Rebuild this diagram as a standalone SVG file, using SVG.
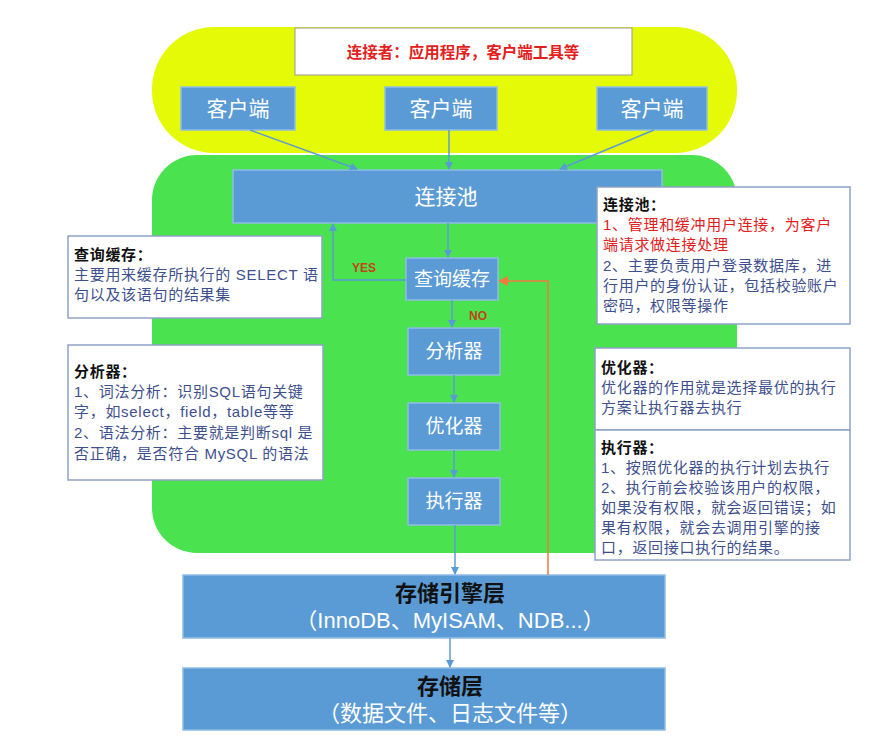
<svg xmlns="http://www.w3.org/2000/svg" width="873" height="745" viewBox="0 0 873 745">
<defs>
<marker id="ab" markerWidth="8" markerHeight="8" refX="7" refY="4" orient="auto" markerUnits="userSpaceOnUse"><path d="M0,0 L8,4 L0,8 z" fill="#5b9bd5"/></marker>
<marker id="ao" markerWidth="10" markerHeight="10" refX="9" refY="5" orient="auto" markerUnits="userSpaceOnUse"><path d="M0,0 L10,5 L0,10 z" fill="#f07b3f"/></marker>
</defs>
<style>
.node{fill:#5b9bd5;stroke:#8fbde6;stroke-width:1.5}
.nt{font-family:"Liberation Sans","Noto Sans CJK SC",sans-serif;fill:#fff;font-size:21px;text-anchor:middle;dominant-baseline:central}
.note{fill:#fff;stroke:#8ea3c4;stroke-width:1.5}
.tx{font-family:"Liberation Sans","Noto Sans CJK SC",sans-serif;font-size:15px;letter-spacing:0.7px;fill:#3e4f8e}
.hd{font-weight:bold;fill:#111}
.red{fill:#e3201b}
.cn{stroke:#5b9bd5;stroke-width:1.5;fill:none}
.big{font-family:"Liberation Sans","Noto Sans CJK SC",sans-serif;font-size:22px;text-anchor:middle;dominant-baseline:central}
</style>
<rect width="873" height="745" fill="#fff"/>
<rect id="yellow-zone" x="152" y="27" width="585" height="126" rx="62" fill="#e4fa07"/>
<rect id="green-zone" x="152" y="155" width="585" height="398" rx="45" fill="#4ae34f"/>

<g id="header">
<rect x="295" y="28" width="337" height="47" fill="#fff" stroke="#999" stroke-width="1"/>
<text x="463" y="52" font-family="Liberation Sans,Noto Sans CJK SC,sans-serif" font-size="15.5px" font-weight="bold" fill="#e3201b" text-anchor="middle" dominant-baseline="central">连接者：应用程序，客户端工具等</text>
</g>
<g id="client1"><rect class="node" x="181" y="87" width="114" height="43"/><text class="nt" x="238" y="108">客户端</text></g>
<g id="client2"><rect class="node" x="385" y="87" width="112" height="43"/><text class="nt" x="441" y="108">客户端</text></g>
<g id="client3"><rect class="node" x="597" y="87" width="110" height="43"/><text class="nt" x="652" y="108">客户端</text></g>

<g id="pool"><rect class="node" x="233" y="170" width="429" height="53"/><text class="nt" x="446" y="196">连接池</text></g>
<g id="cache"><rect class="node" x="406" y="258" width="92" height="42"/><text class="nt" x="452" y="279" style="font-size:19px">查询缓存</text></g>
<g id="parser"><rect class="node" x="408" y="328" width="92" height="47"/><text class="nt" x="454" y="351" style="font-size:19px">分析器</text></g>
<g id="optimizer"><rect class="node" x="408" y="403" width="92" height="47"/><text class="nt" x="454" y="426" style="font-size:19px">优化器</text></g>
<g id="executor"><rect class="node" x="408" y="478" width="92" height="47"/><text class="nt" x="454" y="501" style="font-size:19px">执行器</text></g>

<g id="engine"><rect class="node" x="183" y="575" width="482" height="63"/>
<text class="big" x="450" y="593" font-weight="bold" fill="#111">存储引擎层</text>
<text class="big" x="450" y="620" fill="#fff">（InnoDB、MyISAM、NDB...）</text></g>
<g id="storage"><rect class="node" x="183" y="668" width="482" height="62"/>
<text class="big" x="450" y="686" font-weight="bold" fill="#111">存储层</text>
<text class="big" x="450" y="713" fill="#fff">（数据文件、日志文件等）</text></g>

<g id="note-cache"><rect class="note" x="68" y="236" width="254" height="82"/>
<text class="tx" x="74" y="260"><tspan class="hd">查询缓存：</tspan><tspan x="74" dy="20">主要用来缓存所执行的 SELECT 语</tspan><tspan x="74" dy="20">句以及该语句的结果集</tspan></text></g>

<g id="note-pool"><rect class="note" x="597" y="187" width="253" height="137"/>
<text class="tx" x="603" y="210"><tspan class="hd">连接池：</tspan><tspan class="red" x="603" dy="20">1、管理和缓冲用户连接，为客户</tspan><tspan class="red" x="603" dy="20">端请求做连接处理</tspan><tspan x="603" dy="21">2、主要负责用户登录数据库，进</tspan><tspan x="603" dy="20">行用户的身份认证，包括校验账户</tspan><tspan x="603" dy="20">密码，权限等操作</tspan></text></g>

<g id="note-parser"><rect class="note" x="68" y="345" width="255" height="135"/>
<text class="tx" x="74" y="377"><tspan class="hd">分析器：</tspan><tspan x="74" dy="20">1、词法分析：识别SQL语句关键</tspan><tspan x="74" dy="20">字，如select，field，table等等</tspan><tspan x="74" dy="21">2、语法分析：主要就是判断sql 是</tspan><tspan x="74" dy="21">否正确，是否符合 MySQL 的语法</tspan></text></g>

<g id="note-optimizer"><rect class="note" x="595" y="348" width="255" height="82"/>
<text class="tx" x="601" y="373"><tspan class="hd">优化器：</tspan><tspan x="601" dy="20">优化器的作用就是选择最优的执行</tspan><tspan x="601" dy="20">方案让执行器去执行</tspan></text></g>

<g id="note-executor"><rect class="note" x="595" y="430" width="255" height="130"/>
<text class="tx" x="601" y="453"><tspan class="hd">执行器：</tspan><tspan x="601" dy="20">1、按照优化器的执行计划去执行</tspan><tspan x="601" dy="20">2、执行前会校验该用户的权限，</tspan><tspan x="601" dy="20">如果没有权限，就会返回错误；如</tspan><tspan x="601" dy="20">果有权限，就会去调用引擎的接</tspan><tspan x="601" dy="20">口，返回接口执行的结果。</tspan></text></g>

<g id="connectors">
<line class="cn" x1="250" y1="130" x2="357" y2="169" marker-end="url(#ab)"/>
<line class="cn" x1="449" y1="130" x2="449" y2="169" marker-end="url(#ab)"/>
<line class="cn" x1="654" y1="130" x2="560" y2="169" marker-end="url(#ab)"/>
<line class="cn" x1="448" y1="223" x2="448" y2="257" marker-end="url(#ab)"/>
<polyline class="cn" points="406,280 333,280 333,224" marker-end="url(#ab)"/>
<line class="cn" x1="452" y1="300" x2="452" y2="327" marker-end="url(#ab)"/>
<line class="cn" x1="454" y1="375" x2="454" y2="402" marker-end="url(#ab)"/>
<line class="cn" x1="454" y1="450" x2="454" y2="477" marker-end="url(#ab)"/>
<line class="cn" x1="455" y1="525" x2="455" y2="574" marker-end="url(#ab)"/>
<line class="cn" x1="450" y1="638" x2="450" y2="667" marker-end="url(#ab)"/>
<polyline points="548,575 548,281 499,281" fill="none" stroke="#f07b3f" stroke-width="1.5" marker-end="url(#ao)"/>
<text x="364" y="268" font-family="Liberation Sans,sans-serif" font-size="12px" font-weight="bold" fill="#c0451a" text-anchor="middle" dominant-baseline="central">YES</text>
<text x="478" y="316" font-family="Liberation Sans,sans-serif" font-size="12px" font-weight="bold" fill="#c0451a" text-anchor="middle" dominant-baseline="central">NO</text>
</g>
</svg>
